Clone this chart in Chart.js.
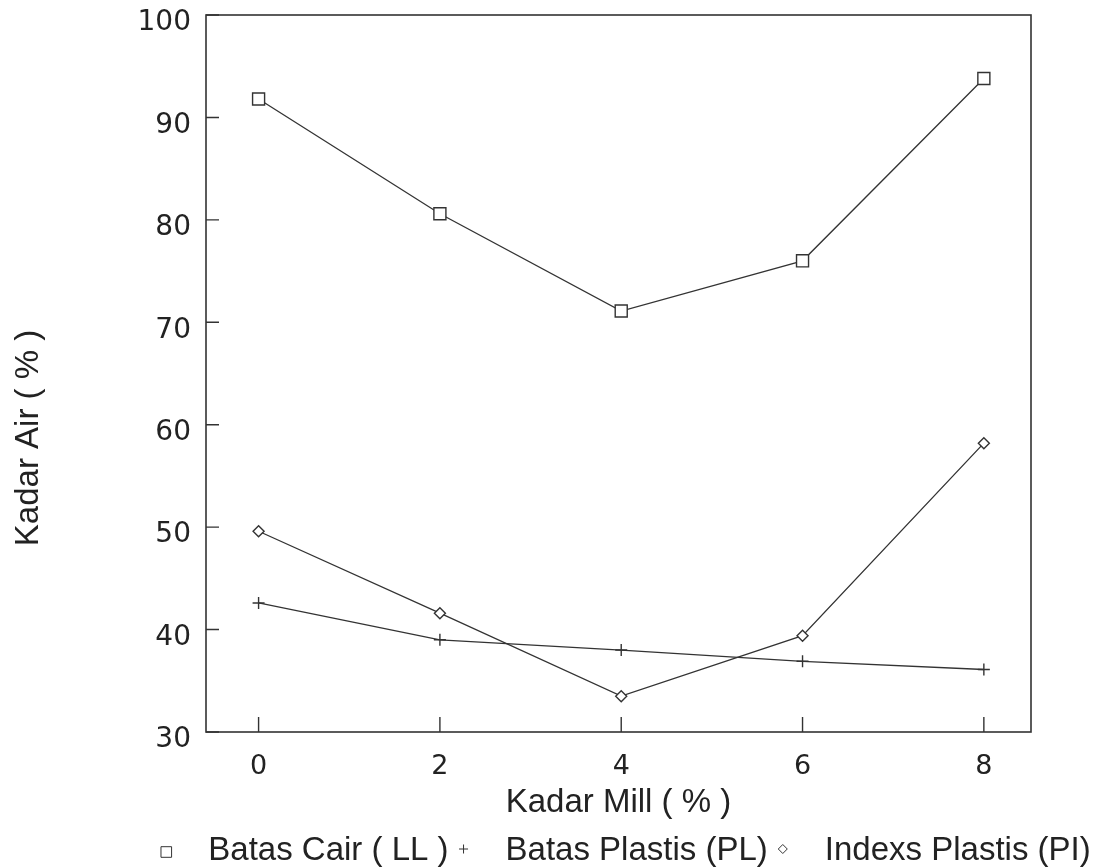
<!DOCTYPE html>
<html lang="id">
<head>
  <meta charset="UTF-8">
  <title>Kadar Air vs Kadar Mill</title>
  <script src="https://cdn.jsdelivr.net/npm/chart.js@4.4.1/dist/chart.umd.min.js"></script>
  <style>
    body {
      margin: 0;
      background: #fff;
    }
    #wrap {
      width: 1116px;
      height: 867px;
    }
  </style>
</head>
<body>

  <div id="wrap">
    <canvas id="kadarChart"></canvas>
  </div>

  <script>
    // Kadar mill (%) on the x axis
    const kadarMill = [0, 2, 4, 6, 8];
    const xTicks = [0, 2, 4, 6, 8];
    const yTicks = [30, 40, 50, 60, 70, 80, 90, 100];

    // series values
    const batasCair = [91.8, 80.6, 71.1, 76.0, 93.8];      // LL
    const batasPlastis = [42.6, 39.0, 38.0, 36.9, 36.1];   // PL
    const indexsPlastis = [49.6, 41.6, 33.5, 39.4, 58.2];  // PI

    const seriesNames = ['Batas Cair ( LL )', 'Batas Plastis (PL)', 'Indexs Plastis (PI)'];
    const xTitle = 'Kadar Mill ( % )';
    const yTitle = 'Kadar Air ( % )';

    const ink = '#333';
    const toPoints = vals => vals.map((v, i) => ({ x: kadarMill[i], y: v }));

    // box, inner tick marks, y title and legend
    const framePlugin = {
      id: 'frame',
      afterDraw(chart) {
        const { ctx, chartArea: a, scales } = chart;
        ctx.save();
        ctx.strokeStyle = ink;
        ctx.lineWidth = 1.6;
        ctx.strokeRect(a.left, a.top, a.right - a.left, a.bottom - a.top);

        ctx.lineWidth = 1.4;
        ctx.beginPath();
        xTicks.forEach(v => {
          const px = scales.x.getPixelForValue(v);
          ctx.moveTo(px, a.bottom);
          ctx.lineTo(px, a.bottom - 15);
        });
        yTicks.forEach(v => {
          const py = scales.y.getPixelForValue(v);
          ctx.moveTo(a.left, py);
          ctx.lineTo(a.left + 13, py);
        });
        ctx.stroke();

        // y axis title (sits lower than the plot centre in the original)
        ctx.fillStyle = '#222';
        ctx.font = '33px "Liberation Sans", Arial, sans-serif';
        ctx.textAlign = 'center';
        ctx.textBaseline = 'middle';
        ctx.translate(29, 438);
        ctx.rotate(-Math.PI / 2);
        ctx.fillText(yTitle, 0, 0);
        ctx.restore();

        // legend: small hollow marker, then text
        ctx.save();
        ctx.font = '33px "Liberation Sans", Arial, sans-serif';
        ctx.strokeStyle = ink;
        ctx.textBaseline = 'middle';
        ctx.textAlign = 'left';
        const ds = chart.data.datasets;
        const gapIn = 42, gapOut = 15;
        let total = 0;
        ds.forEach((d, i) => {
          total += gapIn + ctx.measureText(d.label).width;
          if (i < ds.length - 1) total += gapOut;
        });
        const cx = (a.left + a.right) / 2 + 10;
        let x = cx - total / 2;
        const y = 851;
        ds.forEach(d => {
          ctx.fillStyle = '#fff';
          Chart.helpers.drawPoint(ctx, {
            pointStyle: d.pointStyle,
            radius: d.pointStyle === 'rect' ? 7.5 : 4.5,
            rotation: 0,
            borderWidth: 1.3
          }, x, d.pointStyle === 'rect' ? y + 1 : y - 2);
          ctx.fillStyle = '#222';
          ctx.fillText(d.label, x + gapIn, y);
          x += gapIn + ctx.measureText(d.label).width + gapOut;
        });
        ctx.restore();
      }
    };

    const baseSet = {
      borderColor: ink,
      borderWidth: 1.3,
      pointBorderColor: ink,
      pointBackgroundColor: '#fff',
      pointBorderWidth: 1.4,
      tension: 0,
      fill: false
    };

    const ctx = document.getElementById('kadarChart').getContext('2d');
    new Chart(ctx, {
      type: 'line',
      data: {
        datasets: [
          Object.assign({}, baseSet, {
            label: seriesNames[0],
            data: toPoints(batasCair),
            pointStyle: 'rect',
            pointRadius: 8.5
          }),
          Object.assign({}, baseSet, {
            label: seriesNames[1],
            data: toPoints(batasPlastis),
            pointStyle: 'cross',
            pointRadius: 6
          }),
          Object.assign({}, baseSet, {
            label: seriesNames[2],
            data: toPoints(indexsPlastis),
            pointStyle: 'rectRot',
            pointRadius: 5.5
          })
        ]
      },
      options: {
        responsive: true,
        maintainAspectRatio: false,
        animation: false,
        layout: { padding: { top: 15, right: 85, left: 0, bottom: 0 } },
        plugins: {
          legend: { display: false },
          tooltip: { enabled: false }
        },
        scales: {
          x: {
            type: 'linear',
            min: -0.58,
            max: 8.52,
            afterFit: s => {
              s.height = 135;
              s.paddingLeft = 0;
              s.paddingRight = 0;
            },
            afterBuildTicks: s => { s.ticks = xTicks.map(v => ({ value: v })); },
            grid: { display: false, drawTicks: false },
            border: { display: false },
            ticks: {
              color: '#222',
              padding: 19,
              font: { family: '"DejaVu Sans", sans-serif', size: 27 }
            },
            title: {
              display: true,
              text: xTitle,
              color: '#222',
              padding: { top: 0, bottom: 44 },
              font: { family: '"Liberation Sans", Arial, sans-serif', size: 33 }
            }
          },
          y: {
            min: 30,
            max: 100,
            afterFit: s => {
              s.width = 206;
              s.paddingTop = 0;
              s.paddingBottom = 0;
            },
            afterBuildTicks: s => { s.ticks = yTicks.map(v => ({ value: v })); },
            grid: { display: false, drawTicks: false },
            border: { display: false },
            ticks: {
              color: '#222',
              padding: 15,
              labelOffset: 8,
              font: { family: '"DejaVu Sans", sans-serif', size: 28 }
            }
          }
        }
      },
      plugins: [framePlugin]
    });
  </script>

</body>
</html>
